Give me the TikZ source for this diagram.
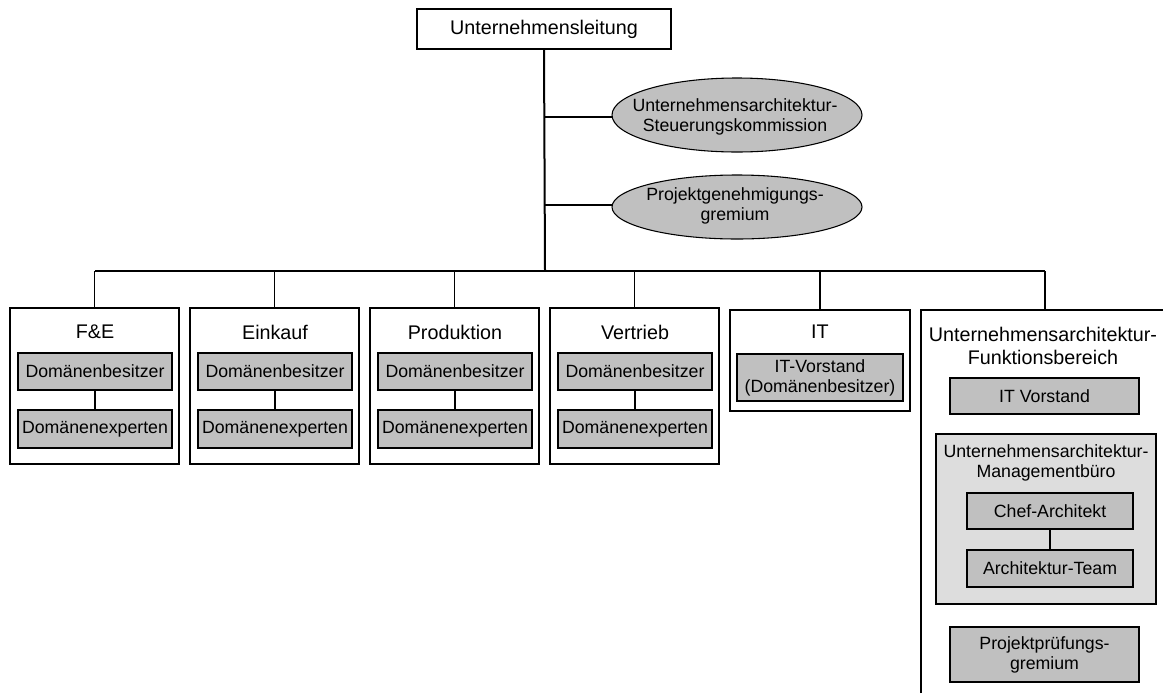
\documentclass[tikz,border=0pt]{standalone}
\usepackage{fontspec}
\setmainfont{Liberation Sans}

\definecolor{unitgray}{HTML}{C0C0C0}
\definecolor{officegray}{HTML}{DDDDDD}

% place a rectangular node by its corner coordinates (in px)
\newcommand\pbox[7]{%
  \node[#6, minimum width={(#4-#2)*0.75pt}, minimum height={(#5-#3)*0.75pt}]
    (#1) at ({(#2+#4)/2},{(#3+#5)/2}) {#7};}

\tikzset{
  bigfont/.style={font=\fontsize{14.8}{17}\selectfont},
  smallfont/.style={font=\fontsize{13.3}{15}\selectfont},
  frame/.style={draw=black, line width=0.8pt, fill=white, inner sep=0pt},
  unit/.style={draw=black, line width=0.8pt, fill=unitgray, inner sep=0pt,
               smallfont, align=center},
  office/.style={draw=black, line width=0.8pt, fill=officegray, inner sep=0pt},
  boardshape/.style={draw=black, line width=0.8pt, fill=unitgray},
  boardtext/.style={smallfont, align=center, inner sep=0pt},
  title/.style={bigfont, align=center, inner sep=0pt},
  subtitle/.style={smallfont, align=center, inner sep=0pt},
  link/.style={draw=black, line width=0.8pt},
  trunk/.style={draw=black, line width=1.5pt},
}

\begin{document}
\begin{tikzpicture}[x=0.75pt, y=-0.75pt]
\useasboundingbox (0,0) rectangle (1163,693);

% top management
\pbox{top}{417}{9}{671}{49}{frame, bigfont}{Unternehmensleitung}

% boards attached to the trunk
\path[boardshape] (737,115) ellipse [x radius=125, y radius=37];
\node[boardtext] (steer) at (735,117) {Unternehmensarchitektur-\\Steuerungskommission};
\coordinate (steerW) at (612,117);
\path[boardshape] (737,207) ellipse [x radius=125, y radius=32];
\node[boardtext] (approve) at (735,206) {Projektgenehmigungs-\\gremium};
\coordinate (approveW) at (612,205);

% bus
\coordinate (busL) at (95,271);
\coordinate (busR) at (1045,271);
\coordinate (busM) at (545,271);

% business units
\pbox{fe}{10}{308}{179}{464}{frame}{}
\pbox{ek}{190}{308}{359}{464}{frame}{}
\pbox{pr}{370}{308}{539}{464}{frame}{}
\pbox{vt}{550}{308}{719}{464}{frame}{}
\pbox{it}{730}{310}{910}{411}{frame}{}

\node[title] (feT) at (95,332) {F\&E};
\node[title] (ekT) at (275,332) {Einkauf};
\node[title] (prT) at (455,332) {Produktion};
\node[title] (vtT) at (635,332) {Vertrieb};
\node[title] (itT) at (820,332) {IT};

\pbox{feA}{18}{353}{172}{390}{unit}{Domänenbesitzer}
\pbox{feB}{18}{410}{172}{448}{unit}{Domänenexperten}
\pbox{ekA}{198}{353}{352}{390}{unit}{Domänenbesitzer}
\pbox{ekB}{198}{410}{352}{448}{unit}{Domänenexperten}
\pbox{prA}{378}{353}{532}{390}{unit}{Domänenbesitzer}
\pbox{prB}{378}{410}{532}{448}{unit}{Domänenexperten}
\pbox{vtA}{558}{353}{712}{390}{unit}{Domänenbesitzer}
\pbox{vtB}{558}{410}{712}{448}{unit}{Domänenexperten}
\pbox{itA}{737}{354}{903}{401}{unit}{IT-Vorstand\\(Domänenbesitzer)}

% enterprise architecture function (frame runs past the edges)
\coordinate (eaBL) at (921,693);
\coordinate (eaTL) at (921,310);
\coordinate (eaTR) at (1163,310);
\coordinate (eaTop) at (1045,310);
\draw[link] (eaBL) -- (eaTL) -- (eaTR);
\node[title] (eaT) at (1043,346) {Unternehmensarchitektur-\\Funktionsbereich};

\pbox{itv}{950}{378}{1139}{414}{unit}{IT Vorstand}
\pbox{mgmt}{936}{434}{1156}{604}{office}{}
\node[subtitle] (mgmtT) at (1046,463) {Unternehmensarchitektur-\\Managementbüro};
\pbox{chef}{967}{493}{1133}{529}{unit}{Chef-Architekt}
\pbox{team}{967}{550}{1133}{587}{unit}{Architektur-Team}
\pbox{review}{950}{627}{1139}{682}{unit}{Projektprüfungs-\\gremium}

% connectors
\draw[trunk] (top.south) -- (busM);
\draw[trunk] (busL) -- (busR);
\draw[link] (steerW -| top.south) -- (steerW);
\draw[link] (approveW -| top.south) -- (approveW);
\foreach \u in {fe,ek,pr,vt,it}
  \draw[link] (\u.north) -- (\u.north |- busL);
\draw[link] (eaTop) -- (busR);
\foreach \u in {fe,ek,pr,vt}
  \draw[link] (\u A.south) -- (\u B.north);
\draw[link] (chef.south) -- (team.north);
\end{tikzpicture}
\end{document}
